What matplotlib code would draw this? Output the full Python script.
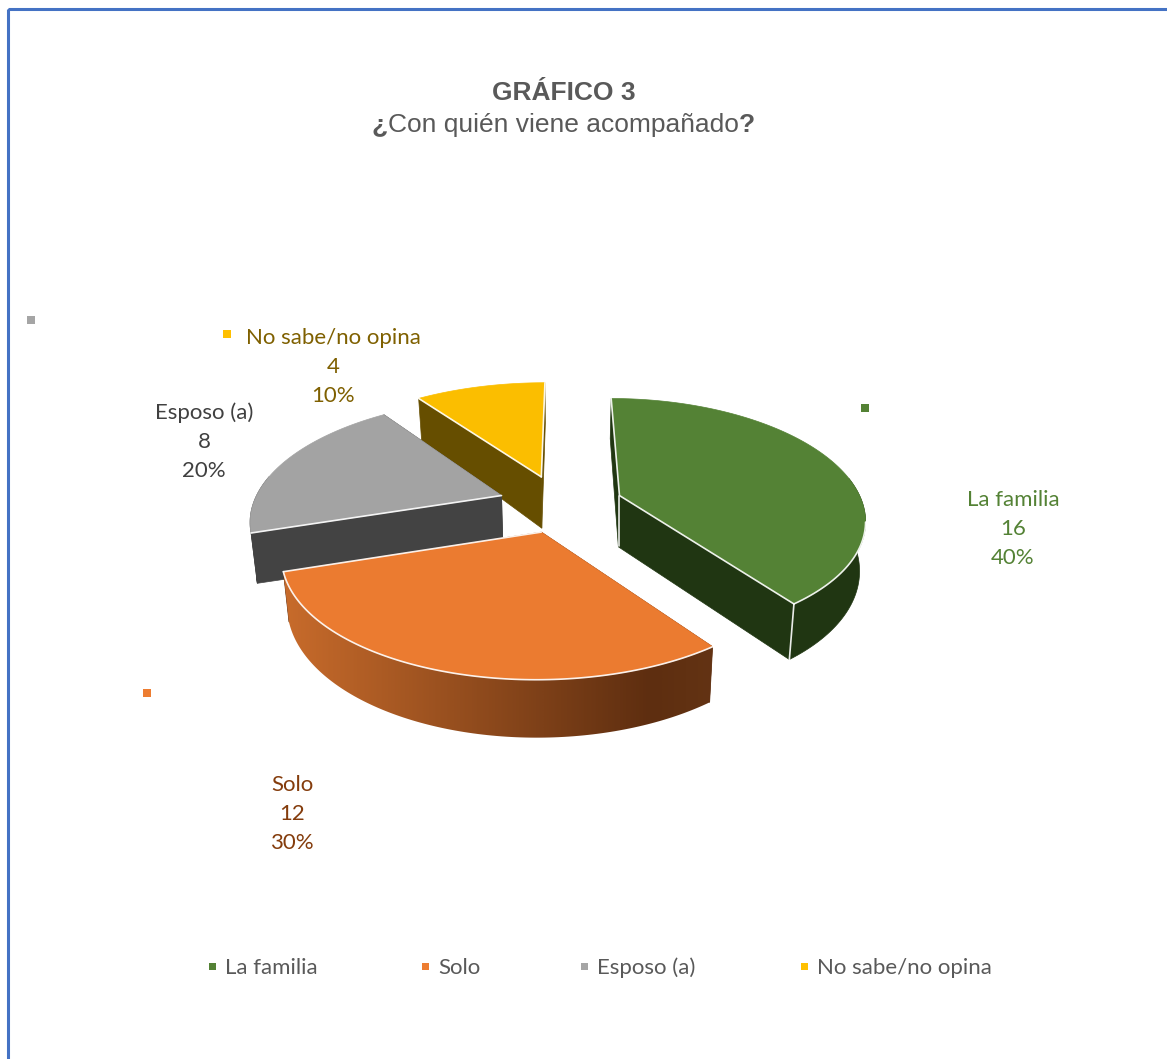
import matplotlib
matplotlib.use("Agg")
import matplotlib.pyplot as plt
from matplotlib.colors import LinearSegmentedColormap
from matplotlib.patches import Polygon, Rectangle
import numpy as np

# datos de la encuesta
categorias = ["La familia", "Solo", "Esposo (a)", "No sabe/no opina"]
valores = [16, 12, 8, 4]
porcentajes = ["40%", "30%", "20%", "10%"]
titulo = "GRÁFICO 3"
subtitulo = "Con quién viene acompañado"

color_top = ["#548235", "#EB7B30", "#A3A3A3", "#FBBE00"]
color_cara = ["#203612", "#5E2E10", "#434343", "#664E00"]
color_texto = ["#548235", "#843C0C", "#404040", "#7F6000"]
color_llave = ["#548235", "#ED7D31", "#A5A5A5", "#FFC000"]

# geometria de la torta en pixeles
cx, cy = 560.5, 504.5
vx, vy = 565, 400
A, B, k = 245, 97.3, 0.18
alto = 47.5
escala = [0.98, 1.04, 1.0, 1.0]

fig = plt.figure(figsize=(11.67, 10.59), dpi=100)
ax = fig.add_axes([0, 0, 1, 1])

# marco del grafico
ax.add_patch(Rectangle((7.5, 8.5), 1300, 1200, fill=False, ec="#4472C4", lw=2.2))

# angulos de cada porcion
total = sum(valores)
inicio = 0
angulos = []
for v in valores:
    fin = inicio + 360 * v / total
    angulos.append((inicio, fin))
    inicio = fin


def pieza(i):
    # contorno superior de una porcion, con perspectiva hacia (vx, vy)
    a0, a1 = angulos[i]
    m = np.radians((a0 + a1) / 2)
    ox = cx + 62 * np.sin(m)
    oy = cy - 29 * np.cos(m)
    t = np.radians(np.linspace(a0, a1, 120))
    u = np.sin(t)
    v = np.cos(t)
    s = 1 / (1 + k * v)
    xs = vx + (ox - vx + A * escala[i] * u) * s
    ys = vy + (oy - vy - B * v) * s
    return ox, oy, xs, ys, s


def abajo(x, y, s):
    # la cara inferior se ve un poco mas angosta
    return vx + (x - vx) * 0.98, y + alto * s


def dibujar_cara(x0, y0, x1, y1, s1, color, zo):
    bx0, by0 = abajo(x0, y0, 1.08)
    bx1, by1 = abajo(x1, y1, s1)
    ax.add_patch(Polygon([(x0, y0), (x1, y1), (bx1, by1), (bx0, by0)], closed=True,
                         fc=color, ec=color, lw=0.5, zorder=zo))


def borde_blanco(xs, ys, zo):
    ax.plot(xs, ys, color="white", lw=1.2, alpha=0.9, zorder=zo + 0.5, solid_capstyle="round")


# se dibuja de atras hacia adelante
orden = {3: 2, 2: 3, 0: 4, 1: 5}
for i in [3, 2, 0, 1]:
    zo = orden[i]
    ox, oy, xs, ys, s = pieza(i)

    # caras de corte
    dibujar_cara(ox, oy, xs[0], ys[0], s[0], color_cara[i], zo)
    dibujar_cara(ox, oy, xs[-1], ys[-1], s[-1], color_cara[i], zo)

    # pared exterior, solo la parte que mira al frente
    frente = s >= 0.97
    if frente.sum() > 1:
        bx, by = abajo(xs[frente], ys[frente], s[frente])
        contorno = list(zip(xs[frente], ys[frente])) + list(zip(bx[::-1], by[::-1]))
        if i == 1:
            # degradado de izquierda a derecha en la porcion naranja
            mapa = LinearSegmentedColormap.from_list(
                "naranja", [(0, "#CB6D2C"), (0.84, "#5E2E10"), (1, "#643414")])
            pared = Polygon(contorno, closed=True, fc="none", ec="none", zorder=zo)
            ax.add_patch(pared)
            img = ax.imshow(np.linspace(0, 1, 400).reshape(1, -1), cmap=mapa, aspect="auto",
                            extent=(xs.min() - 10, xs.max() + 10, by.max() + 5, ys.min() - 5),
                            zorder=zo, interpolation="bilinear")
            img.set_clip_path(pared)
        else:
            ax.add_patch(Polygon(contorno, closed=True, fc=color_cara[i], ec=color_cara[i], lw=0.5, zorder=zo))

    # tapa superior
    puntos = [(ox, oy)] + list(zip(xs, ys))
    ax.add_patch(Polygon(puntos, closed=True, fc=color_top[i], ec=color_top[i], lw=0.5, zorder=zo + 0.3))

    # lineas claras sobre los bordes
    if i == 0:
        borde_blanco([xs[0], ox, xs[-1]], [ys[0], oy, ys[-1]], zo)
        borde_blanco(xs[85:], ys[85:], zo)
        bx1, by1 = abajo(xs[-1], ys[-1], s[-1])
        borde_blanco([xs[-1], bx1], [ys[-1], by1], zo)
        borde_blanco([ox, ox], [oy, oy + 50], zo)
    elif i == 1:
        borde_blanco(xs, ys, zo)
        borde_blanco([xs[-1], ox], [ys[-1], oy], zo)
    elif i == 2:
        borde_blanco([xs[0], ox], [ys[0], oy], zo)
    else:
        borde_blanco([xs[0], ox], [ys[0], oy], zo)
        borde_blanco([xs[-1], ox], [ys[-1], oy], zo)

# etiquetas de datos
pos_etiquetas = [(1013, 527), (292, 812), (204, 440), (333, 365)]
pos_llaves = [(865, 408), (147, 693), (31, 320), (227, 334)]
for i in range(4):
    x, y = pos_etiquetas[i]
    ax.text(x, y - 27, categorias[i], color=color_texto[i], family="Lato", fontsize=16, ha="center", va="center")
    ax.text(x, y + 2, str(valores[i]), color=color_texto[i], family="Lato", fontsize=16, ha="center", va="center")
    ax.text(x, y + 31, porcentajes[i], color=color_texto[i], family="Lato", fontsize=16, ha="center", va="center")
    kx, ky = pos_llaves[i]
    ax.add_patch(Rectangle((kx - 4, ky - 4), 8, 8, fc=color_llave[i], ec="none"))

# leyenda
pos_leyenda = [212, 425, 584, 804]
for i in range(4):
    ax.add_patch(Rectangle((pos_leyenda[i] - 3.5, 962.5), 7, 7, fc=color_llave[i], ec="none"))
    ax.text(pos_leyenda[i] + 13, 968, categorias[i], color="#595959", family="Lato", fontsize=16, ha="left", va="center")

ax.set_xlim(0, 1167)
ax.set_ylim(1059, 0)
ax.axis("off")

# titulo, los signos de interrogacion van en negrita
ax.text(564, 93, titulo, color="#595959", family="Liberation Sans", weight="bold", fontsize=19, ha="center", va="center")
medio = ax.text(563, 125, subtitulo, color="#595959", family="Liberation Sans", fontsize=19, ha="center", va="center")
fig.canvas.draw()
caja = medio.get_window_extent()
xi = ax.transData.inverted().transform((caja.x0, 0))[0]
xf = ax.transData.inverted().transform((caja.x1, 0))[0]
ax.text(xi, 125, "¿", color="#595959", family="Liberation Sans", weight="bold", fontsize=19, ha="right", va="center")
ax.text(xf, 125, "?", color="#595959", family="Liberation Sans", weight="bold", fontsize=19, ha="left", va="center")

fig.savefig("out.png", dpi=100, facecolor="white")
